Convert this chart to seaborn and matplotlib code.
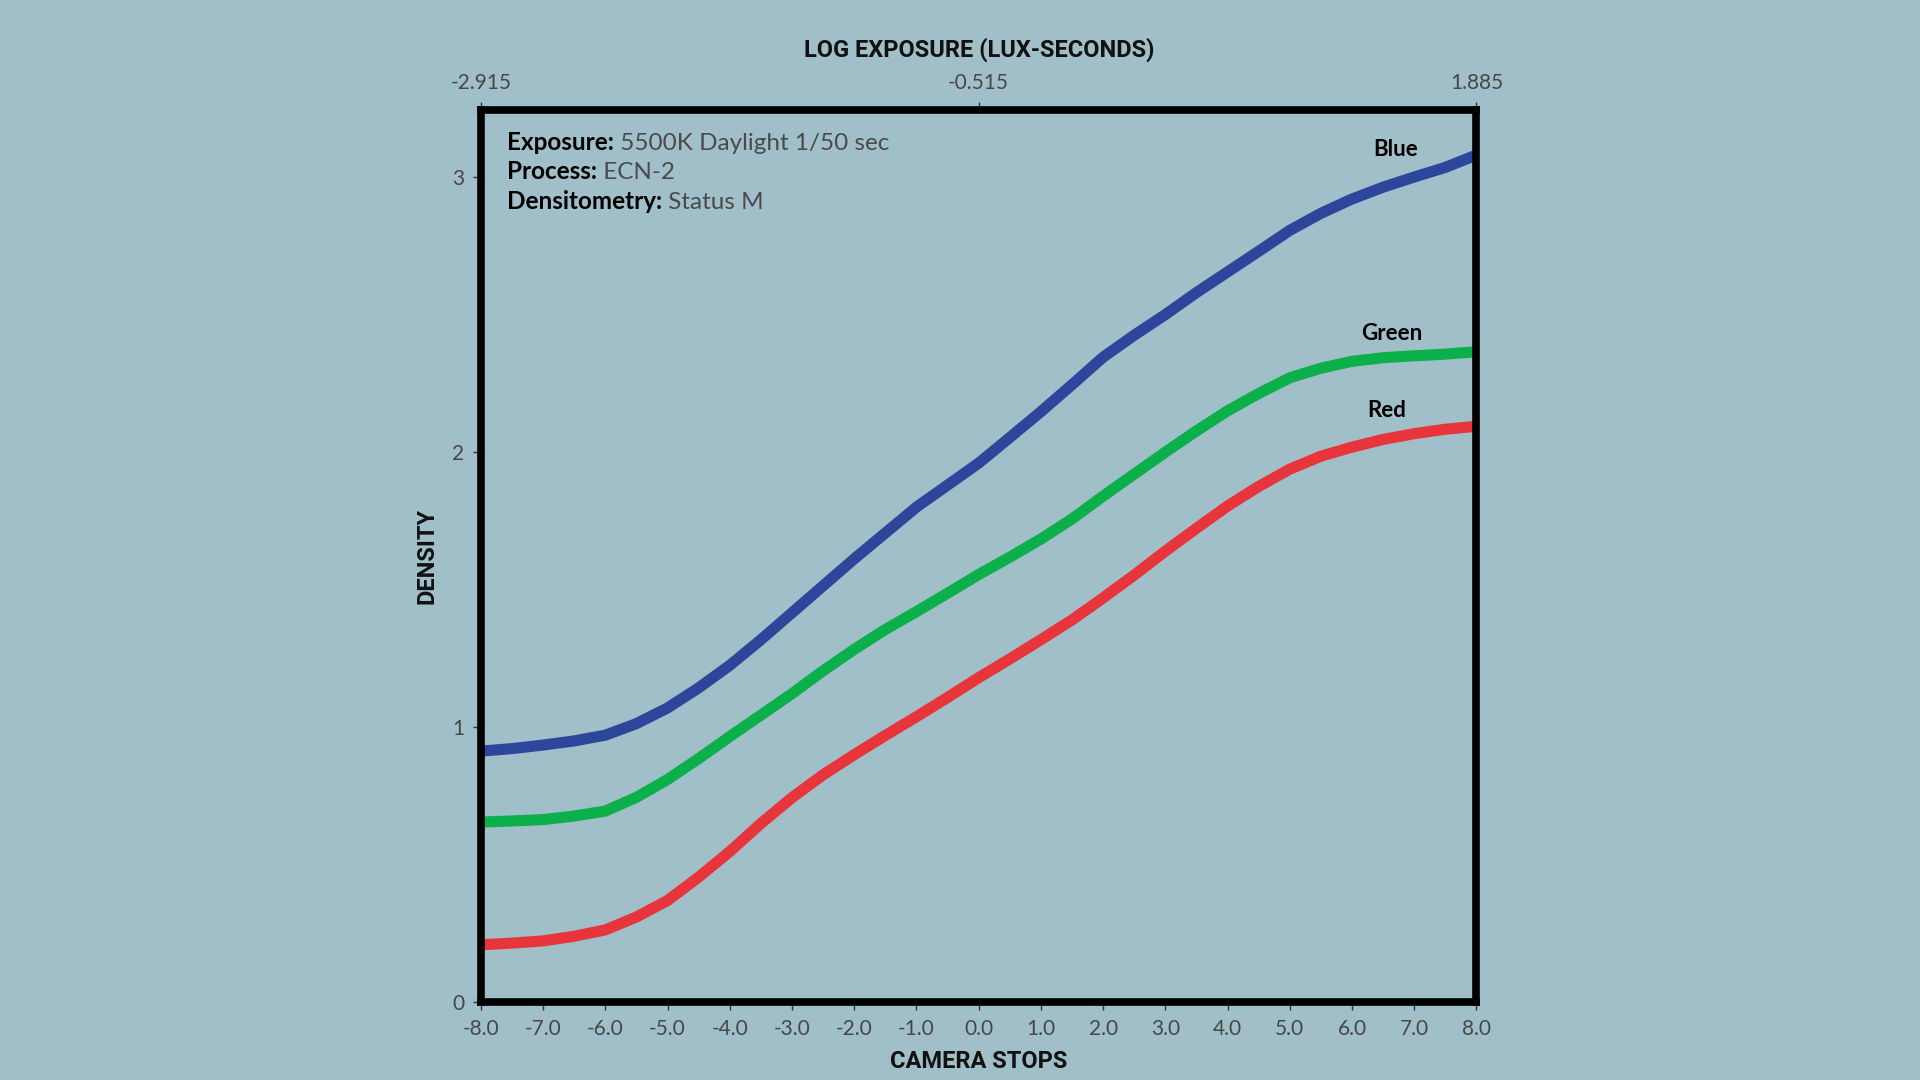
import numpy as np
import pandas as pd
import matplotlib

matplotlib.use("Agg")

import matplotlib.pyplot as plt
import seaborn as sns

# characteristic curve data at half-stop steps
stops = [-8, -7.5, -7, -6.5, -6, -5.5, -5, -4.5, -4, -3.5, -3, -2.5, -2, -1.5, -1, -0.5,
         0, 0.5, 1, 1.5, 2, 2.5, 3, 3.5, 4, 4.5, 5, 5.5, 6, 6.5, 7, 7.5, 8]
blue = [0.913, 0.922, 0.935, 0.950, 0.971, 1.013, 1.07, 1.143, 1.225, 1.318, 1.416, 1.514,
        1.612, 1.706, 1.80, 1.88, 1.96, 2.053, 2.147, 2.245, 2.345, 2.425, 2.50, 2.58,
        2.655, 2.73, 2.806, 2.868, 2.92, 2.963, 3.0, 3.035, 3.08]
green = [0.655, 0.659, 0.664, 0.677, 0.695, 0.745, 0.81, 0.886, 0.966, 1.044, 1.122, 1.205,
         1.283, 1.355, 1.42, 1.487, 1.555, 1.618, 1.684, 1.757, 1.84, 1.92, 2.0, 2.077,
         2.15, 2.213, 2.27, 2.305, 2.33, 2.343, 2.35, 2.356, 2.365]
red = [0.209, 0.215, 0.223, 0.24, 0.263, 0.31, 0.37, 0.455, 0.548, 0.65, 0.744, 0.827,
       0.90, 0.97, 1.038, 1.108, 1.18, 1.248, 1.318, 1.39, 1.47, 1.553, 1.64, 1.723,
       1.804, 1.875, 1.938, 1.985, 2.018, 2.046, 2.067, 2.083, 2.094]

x_ticks = list(range(-8, 9))
x_labels = [f"{s:.1f}" for s in x_ticks]
top_ticks = [-8, 0, 8]
top_labels = ["-2.915", "-0.515", "1.885"]

info_bold = ["Exposure:", "Process:", "Densitometry:"]
info_text = [" 5500K Daylight 1/50 sec", " ECN-2", " Status M"]

bg = "#a0bfc8"
colors = {"Blue": "#2d469b", "Green": "#0cb04a", "Red": "#e8353c"}

n = len(stops)
df = pd.DataFrame({"stops": stops * 3,
                   "density": blue + green + red,
                   "channel": ["Blue"] * n + ["Green"] * n + ["Red"] * n})

sns.set_theme(style="white")
plt.rcParams["font.family"] = ["Lato", "DejaVu Sans"]

fig = plt.figure(figsize=(19.2, 10.8), dpi=100, facecolor=bg)
ax = fig.add_axes([0.2505, 0.072, 0.5185, 0.826])
ax.set_facecolor(bg)

sns.lineplot(data=df, x="stops", y="density", hue="channel", palette=colors,
             linewidth=8, legend=False, ax=ax, solid_capstyle="butt", solid_joinstyle="round")

ax.set_xlim(-8, 8)
ax.set_ylim(0, 3.243)
ax.set_xticks(x_ticks)
ax.set_xticklabels(x_labels)
ax.set_yticks([0, 1, 2, 3])
ax.set_yticklabels(["0", "1", "2", "3"])

for sp in ax.spines.values():
    sp.set_visible(True)
    sp.set_color("black")
    sp.set_linewidth(5.5)

ax.tick_params(axis="both", direction="out", length=6, width=1, color="#333333",
               labelsize=15, labelcolor="#474747", pad=6, bottom=True, left=True)

label_font = dict(fontsize=17, fontweight="bold", family="Roboto", color="#111111")
ax.set_xlabel("CAMERA STOPS", labelpad=8, **label_font)
ax.set_ylabel("DENSITY", labelpad=10, **label_font)

top = ax.secondary_xaxis("top")
top.set_xticks(top_ticks)
top.set_xticklabels(top_labels)
top.tick_params(direction="out", length=6, width=1, color="#333333", labelsize=15,
                labelcolor="#474747", pad=6)
top.spines["top"].set_visible(False)
top.set_xlabel("LOG EXPOSURE (LUX-SECONDS)", labelpad=12, **label_font)

# info block with bold key and lighter value
for i, (b, t) in enumerate(zip(info_bold, info_text)):
    bt = ax.text(0.026, 0.977 - i * 0.033, b, transform=ax.transAxes, fontsize=17.5,
                 fontweight="bold", color="black", va="top", ha="left")
    ax.annotate(t, xy=(1, 0), xycoords=bt, va="bottom", ha="left", fontsize=17.5,
                fontweight="normal", color="#4a4a4a")

# curve labels
label_pos = {"Blue": (6.70, 3.10), "Green": (6.64, 2.43), "Red": (6.56, 2.15)}
for name, (lx, ly) in label_pos.items():
    ax.text(lx, ly, name, fontsize=16, fontweight="bold", color="black", ha="center", va="center")

fig.savefig("out.png", dpi=100, facecolor=bg)
plt.close(fig)
